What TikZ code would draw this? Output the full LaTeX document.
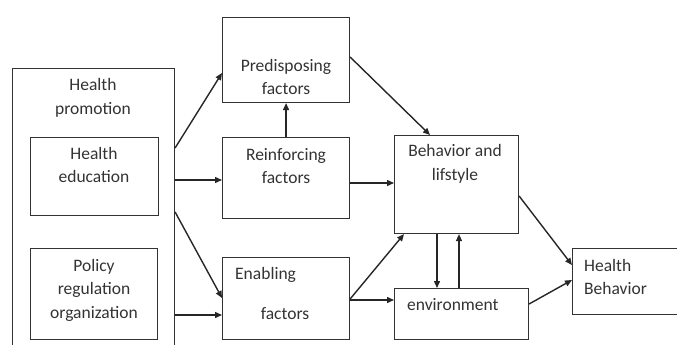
\documentclass[tikz,border=0pt]{standalone}
\usepackage{fontspec}
\setmainfont{Carlito}
\usetikzlibrary{arrows.meta,calc}
\begin{document}
\begin{tikzpicture}[x=1pt, y=-1pt,
  box/.style={draw=black!80, line width=1.1pt, anchor=north west, inner sep=0pt},
  txt/.style={text=black!80, align=center, inner sep=0pt, font=\fontsize{17.5}{23.5}\selectfont},
  arr/.style={draw=black!85, line width=1.4pt, -{Triangle[length=7pt,width=6pt]}}]
\useasboundingbox (0,0) rectangle (677,345);
\clip (0,0) rectangle (677,345);

\node[box, minimum width=162pt, minimum height=300pt] (hp) at (12,68) {};
\node[box, minimum width=128pt, minimum height=78pt] (edu) at (30,137) {};
\node[box, minimum width=127pt, minimum height=91pt] (pol) at (30,248) {};
\node[box, minimum width=127pt, minimum height=85pt] (pre) at (222,17) {};
\node[box, minimum width=127pt, minimum height=81pt] (rein) at (222,137) {};
\node[box, minimum width=127pt, minimum height=82pt] (enab) at (222,257) {};
\node[box, minimum width=124pt, minimum height=98pt] (beh) at (394,135) {};
\node[box, minimum width=134pt, minimum height=51pt] (env) at (394,288) {};
\node[box, minimum width=130pt, minimum height=66pt] (hb) at (572,248) {};

\node[txt] (hpT) at (93,98) {Health\\promotion};
\node[txt] (eduT) at (94,165) {Health\\education};
\node[txt] (polT) at (94,290) {Policy\\regulation\\organization};
\node[txt] (preT) at (286,77) {Predisposing\\factors};
\node[txt] (reinT) at (286,166) {Reinforcing\\factors};
\node[txt, anchor=west] (enabT) at (235,275) {Enabling};
\node[txt] (enabF) at (285,314) {factors};
\node[txt] (behT) at (455,164) {Behavior and\\lifstyle};
\node[txt, anchor=west] (envT) at (407,305) {environment};
\node[txt, anchor=west, align=left] (hbT) at (584,277) {Health\\Behavior};

\draw[arr] ($(hp.north east)+(0,80)$) -- ($(pre.north west)+(0,56)$);
\draw[arr] ($(hp.north east)+(0,112)$) -- ($(rein.north west)+(0,43)$);
\draw[arr] ($(hp.north east)+(0,144)$) -- ($(enab.north west)+(0,41)$);
\draw[arr] ($(hp.north east)+(0,247)$) -- ($(enab.north west)+(0,58)$);
\draw[arr] (rein.north) -- (pre.south);
\draw[arr] ($(pre.north east)+(0,40)$) -- ($(beh.north west)+(36,0)$);
\draw[arr] ($(rein.north east)+(0,46)$) -- ($(beh.north west)+(0,48)$);
\draw[arr] ($(enab.north east)+(0,42)$) -- ($(beh.south west)+(10,0)$);
\draw[arr] ($(enab.north east)+(0,43)$) -- ($(env.north west)+(0,12)$);
\draw[arr] ($(beh.south west)+(43,0)$) -- ($(env.north west)+(43,0)$);
\draw[arr] ($(env.north west)+(65,0)$) -- ($(beh.south west)+(65,0)$);
\draw[arr] ($(beh.north east)+(0,61)$) -- ($(hb.north west)+(0,17)$);
\draw[arr] ($(env.north east)+(0,16)$) -- ($(hb.north west)+(0,32)$);
\end{tikzpicture}
\end{document}
